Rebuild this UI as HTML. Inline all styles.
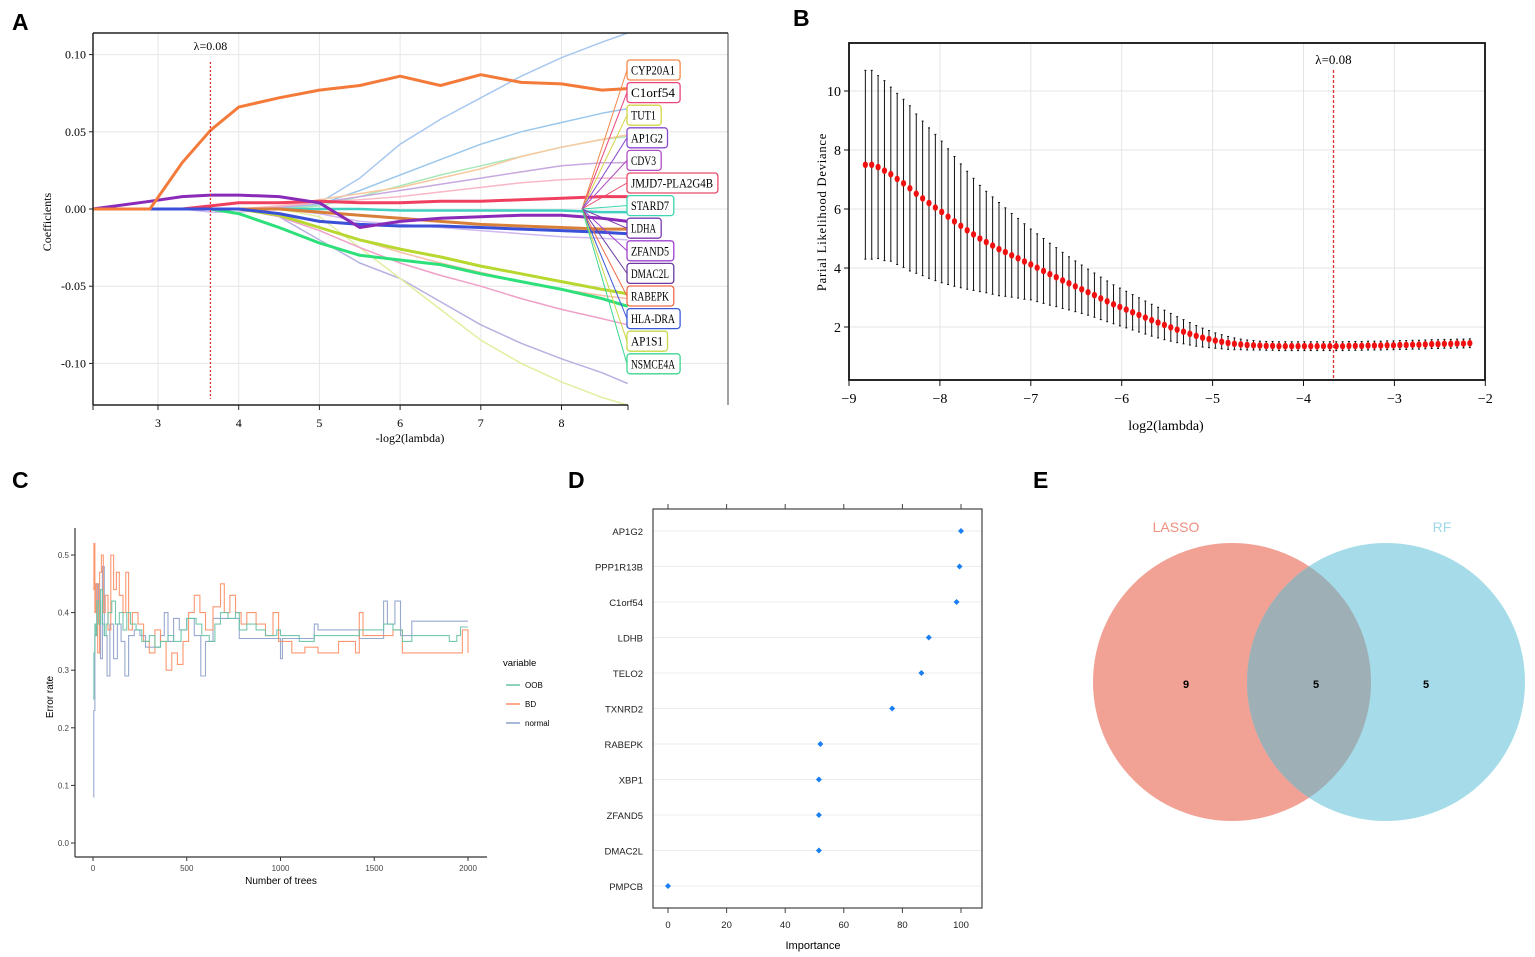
<!DOCTYPE html>
<html><head><meta charset="utf-8"><style>
html,body{margin:0;padding:0;background:#fff;}
svg{display:block;}
.ser{font-family:"Liberation Serif",serif;}
.san{font-family:"Liberation Sans",sans-serif;}
</style></head><body>
<svg id="fig" width="1535" height="957" viewBox="0 0 1535 957" xmlns="http://www.w3.org/2000/svg">
<text x="12" y="30" class="san" font-size="23" font-weight="bold">A</text>
<text x="793" y="26" class="san" font-size="23" font-weight="bold">B</text>
<text x="12" y="488" class="san" font-size="23" font-weight="bold">C</text>
<text x="568" y="488" class="san" font-size="23" font-weight="bold">D</text>
<text x="1033" y="488" class="san" font-size="23" font-weight="bold">E</text>
<g id="pa"></g>
<g id="pb"></g>
<g id="pc"></g>
<g id="pd"></g>
<g id="pe">
<defs><clipPath id="clipL"><circle cx="1232" cy="682" r="139"/></clipPath></defs>
<circle cx="1232" cy="682" r="139" fill="#f2a195"/>
<circle cx="1386" cy="682" r="139" fill="#a6dce9"/>
<circle cx="1386" cy="682" r="139" fill="#9fafb6" clip-path="url(#clipL)"/>
<text x="1176" y="532" text-anchor="middle" class="san" font-size="14" fill="#f08e80">LASSO</text>
<text x="1442" y="532" text-anchor="middle" class="san" font-size="14" fill="#9ed8e6">RF</text>
<text x="1186" y="688" text-anchor="middle" class="san" font-size="11" font-weight="bold">9</text>
<text x="1316" y="688" text-anchor="middle" class="san" font-size="11" font-weight="bold">5</text>
<text x="1426" y="688" text-anchor="middle" class="san" font-size="11" font-weight="bold">5</text>
</g>
</svg>
<script>
const NS="http://www.w3.org/2000/svg";
function mk(parent,tag,attrs,text){const e=document.createElementNS(NS,tag);for(const k in attrs)e.setAttribute(k,attrs[k]);if(text!==undefined)e.textContent=text;parent.appendChild(e);return e;}

/* ===== Panel A data ===== */
const aGrid=[2.19,2.9,3.3,3.65,4.0,4.5,5.0,5.5,6.0,6.5,7.0,7.5,8.0,8.5,8.82];
const aXTicks=[3,4,5,6,7,8];
const aYTicks=[0.10,0.05,0.00,-0.05,-0.10];
const aSeriesColors=["#a8c8f0","#9cc8ec","#a8e8b8","#f8c8a0","#c8a8e0","#f8b8c8","#b8b0e0","#e0f0a0","#f0a0c8","#f8c0a8","#d0b8f0","#40d0c0","#f04060","#d8803a","#b8d830","#2ee07a","#3a50d8","#8a2ab8","#f47a3a"];
const aSeriesWidths=[1.5,1.5,1.5,1.5,1.5,1.5,1.5,1.5,1.5,1.5,1.5,2.5,3,3,3,3,3,3,3];
const aS0=[0,0,0,0,0,0,0.004,0.02,0.042,0.058,0.072,0.086,0.098,0.108,0.114];
const aS1=[0,0,0,0,0,0,0.003,0.012,0.022,0.032,0.042,0.05,0.056,0.062,0.065];
const aS2=[0,0,0,0,0,0,0.002,0.008,0.015,0.022,0.028,0.034,0.04,0.045,0.047];
const aS3=[0,0,0,0,0,0.002,0.006,0.01,0.014,0.02,0.026,0.034,0.04,0.045,0.048];
const aS4=[0,0,0,0,0,0.001,0.004,0.008,0.012,0.016,0.02,0.024,0.028,0.03,0.03];
const aS5=[0,0,0,0,0,0.002,0.004,0.006,0.008,0.011,0.014,0.017,0.019,0.02,0.02];
const aS6=[0,0,0,0,0,-0.005,-0.02,-0.035,-0.045,-0.06,-0.075,-0.087,-0.097,-0.106,-0.113];
const aS7=[0,0,0,0,0,0,-0.005,-0.025,-0.045,-0.065,-0.085,-0.1,-0.112,-0.122,-0.127];
const aS8=[0,0,0,0,0,-0.005,-0.014,-0.025,-0.035,-0.043,-0.05,-0.058,-0.065,-0.071,-0.075];
const aS9=[0,0,0,0,0,-0.004,-0.012,-0.02,-0.028,-0.035,-0.041,-0.047,-0.052,-0.056,-0.058];
const aS10=[0,0,0,-0.002,-0.002,0,-0.003,-0.008,-0.01,-0.012,-0.014,-0.016,-0.018,-0.019,-0.02];
const aS11=[0,0,0,0,0,0,0,0,-0.001,-0.001,-0.001,-0.001,-0.001,-0.002,-0.002];
const aS12=[0,0,0,0.002,0.004,0.004,0.005,0.004,0.004,0.005,0.005,0.006,0.007,0.008,0.008];
const aS13=[0,0,0,0,0,0,-0.002,-0.004,-0.006,-0.008,-0.01,-0.011,-0.012,-0.013,-0.013];
const aS14=[0,0,0,0,0,-0.004,-0.012,-0.02,-0.026,-0.031,-0.037,-0.042,-0.047,-0.052,-0.055];
const aS15=[0,0,0,0,-0.003,-0.012,-0.022,-0.03,-0.033,-0.036,-0.042,-0.047,-0.052,-0.058,-0.063];
const aS16=[0,0,0,0,0,-0.003,-0.008,-0.01,-0.011,-0.011,-0.012,-0.013,-0.014,-0.015,-0.016];
const aS17=[0,0.005,0.008,0.009,0.009,0.008,0.004,-0.012,-0.008,-0.006,-0.005,-0.004,-0.004,-0.006,-0.008];
const aS18=[0,0,0.03,0.051,0.066,0.072,0.077,0.08,0.086,0.08,0.087,0.082,0.081,0.077,0.078];
const aSeries=[aS0,aS1,aS2,aS3,aS4,aS5,aS6,aS7,aS8,aS9,aS10,aS11,aS12,aS13,aS14,aS15,aS16,aS17,aS18];
const aLabels=["CYP20A1","C1orf54","TUT1","AP1G2","CDV3","JMJD7-PLA2G4B","STARD7","LDHA","ZFAND5","DMAC2L","RABEPK","HLA-DRA","AP1S1","NSMCE4A"];
const aLabelColors=["#f4884a","#e8457a","#d4d44a","#8a4ad0","#b050c0","#e84a6a","#3ed6b0","#7a3ab0","#a040d0","#6a3aa0","#f06a4a","#3a5ad8","#c8d84a","#3ed690"];
const aLambda=3.65;

(function(){
const g=document.getElementById('pa');
const L=93,R=728,T=33,B=405;
const xs=v=>158+(v-3)*80.7, ys=v=>209-v*1544;
mk(g,'rect',{x:L,y:T,width:R-L,height:B-T,fill:'#fff'});
aXTicks.forEach(t=>{const l=mk(g,'line',{x1:xs(t),x2:xs(t),y1:T,y2:B,stroke:'#e6e6e6'});

});
aYTicks.forEach(t=>{const l=mk(g,'line',{x1:L,x2:R,y1:ys(t),y2:ys(t),stroke:'#e6e6e6'});

});
aSeries.forEach((s,i)=>{const pts=s.map((v,j)=>xs(aGrid[j]).toFixed(1)+','+ys(v).toFixed(1)).join(' ');
const p=mk(g,'polyline',{points:pts,fill:'none',stroke:aSeriesColors[i],'stroke-width':aSeriesWidths[i],'stroke-linejoin':'round'});

});
const vl=mk(g,'line',{x1:xs(aLambda),x2:xs(aLambda),y1:62,y2:B-6,stroke:'#e03030','stroke-width':1.3,'stroke-dasharray':'2,2'});


const lt=mk(g,'text',{x:xs(aLambda),y:50,'text-anchor':'middle','font-size':12,class:'ser'},'λ=0.08');


aLabels.forEach((n,i)=>{const cy=70+i*22.6;const w=n.length*6.3+9;
const c=mk(g,'line',{x1:582,y1:209,x2:627,y2:cy,stroke:aLabelColors[i],'stroke-width':1});


const r=mk(g,'rect',{x:627,y:cy-10,width:w,height:20,rx:3,fill:'#fff',stroke:aLabelColors[i],'stroke-width':1.3});


const t=mk(g,'text',{x:631,y:cy+4.5,'font-size':12.5,class:'ser',textLength:(w-9).toFixed(0),lengthAdjust:'spacingAndGlyphs'},n);

});
mk(g,'line',{x1:L,x2:R,y1:T,y2:T,stroke:'#222','stroke-width':1.5});
mk(g,'line',{x1:R,x2:R,y1:T,y2:B,stroke:'#444','stroke-width':1});
mk(g,'line',{x1:L,x2:L,y1:T,y2:B,stroke:'#222','stroke-width':1.5});
mk(g,'line',{x1:L,x2:628,y1:B,y2:B,stroke:'#222','stroke-width':1.5});
[L,628].concat(aXTicks.map(xs)).forEach(x=>mk(g,'line',{x1:x,x2:x,y1:B,y2:B+5,stroke:'#222'}));
aXTicks.forEach(t=>{const e=mk(g,'text',{x:xs(t),y:B+22,'text-anchor':'middle','font-size':12,class:'ser'},t);

});
aYTicks.forEach(t=>{mk(g,'line',{x1:L-4,x2:L,y1:ys(t),y2:ys(t),stroke:'#222'});
const e=mk(g,'text',{x:L-7,y:ys(t)+4,'text-anchor':'end','font-size':12,class:'ser'},t.toFixed(2));

});
const xt=mk(g,'text',{x:410,y:442,'text-anchor':'middle','font-size':12,class:'ser'},'-log2(lambda)');


const yt=mk(g,'text',{x:0,y:0,transform:'translate(51,222) rotate(-90)','text-anchor':'middle','font-size':12,class:'ser'},'Coefficients');


})();

/* ===== Panel B data ===== */
const bStart=-8.82, bStep=0.07;
const bXTicks=[-9,-8,-7,-6,-5,-4,-3,-2];
const bYTicks=[2,4,6,8,10];
const bMean=[7.50,7.50,7.42,7.30,7.18,7.02,6.87,6.70,6.52,6.36,6.20,6.05,5.90,5.74,5.58,5.43,5.28,5.14,5.00,4.88,4.76,4.64,4.54,4.43,4.33,4.22,4.12,4.01,3.90,3.79,3.69,3.58,3.48,3.38,3.28,3.18,3.08,2.97,2.87,2.77,2.68,2.59,2.50,2.41,2.32,2.23,2.15,2.07,1.99,1.91,1.84,1.77,1.70,1.64,1.59,1.54,1.50,1.46,1.43,1.41,1.39,1.38,1.37,1.36,1.36,1.35,1.35,1.35,1.35,1.35,1.35,1.35,1.35,1.35,1.35,1.35,1.36,1.36,1.36,1.37,1.37,1.37,1.38,1.38,1.39,1.39,1.40,1.40,1.41,1.42,1.42,1.43,1.43,1.44,1.44,1.45];
const bSd=[3.2,3.2,3.1,3.05,2.95,2.9,2.85,2.8,2.7,2.62,2.55,2.48,2.4,2.3,2.2,2.1,2.0,1.9,1.8,1.72,1.65,1.58,1.5,1.42,1.35,1.28,1.2,1.15,1.1,1.05,1.0,0.95,0.9,0.86,0.82,0.78,0.75,0.72,0.69,0.66,0.64,0.62,0.6,0.58,0.56,0.54,0.52,0.5,0.47,0.44,0.41,0.38,0.35,0.32,0.29,0.26,0.24,0.22,0.2,0.18,0.17,0.16,0.15,0.15,0.15,0.15,0.15,0.15,0.15,0.15,0.15,0.15,0.15,0.15,0.15,0.15,0.15,0.15,0.15,0.15,0.15,0.15,0.15,0.15,0.15,0.15,0.15,0.15,0.15,0.15,0.15,0.15,0.15,0.15,0.15,0.15];
const bLambda=-3.67;

(function(){
const g=document.getElementById('pb');
const L=849,R=1485,T=43,B=380;
const xs=v=>849+(v+9)*90.9, ys=v=>386-v*29.5;
bXTicks.forEach(t=>mk(g,'line',{x1:xs(t),x2:xs(t),y1:T,y2:B,stroke:'#e4e4e4'}));
bYTicks.forEach(t=>mk(g,'line',{x1:L,x2:R,y1:ys(t),y2:ys(t),stroke:'#e4e4e4'}));
bMean.forEach((m,i)=>{const x=xs(bStart+i*bStep);
const e=mk(g,'line',{x1:x,x2:x,y1:ys(m+bSd[i]),y2:ys(m-bSd[i]),stroke:'#111','stroke-width':1});


mk(g,'line',{x1:x-1,x2:x+1,y1:ys(m+bSd[i]),y2:ys(m+bSd[i]),stroke:'#111'});
mk(g,'line',{x1:x-1,x2:x+1,y1:ys(m-bSd[i]),y2:ys(m-bSd[i]),stroke:'#111'});});
bMean.forEach((m,i)=>{const x=xs(bStart+i*bStep);
const d=mk(g,'ellipse',{cx:x,cy:ys(m),rx:2.6,ry:3.3,fill:'#f01010'});

});
const vl=mk(g,'line',{x1:xs(bLambda),x2:xs(bLambda),y1:70,y2:B,stroke:'#e03030','stroke-width':1.3,'stroke-dasharray':'3,2'});


const lt=mk(g,'text',{x:xs(bLambda),y:64,'text-anchor':'middle','font-size':13,class:'ser'},'λ=0.08');


mk(g,'rect',{x:L,y:T,width:R-L,height:B-T,fill:'none',stroke:'#111','stroke-width':1.8});
bXTicks.forEach(t=>{mk(g,'line',{x1:xs(t),x2:xs(t),y1:B,y2:B+6,stroke:'#111'});
const e=mk(g,'text',{x:xs(t),y:B+23,'text-anchor':'middle','font-size':14,class:'ser'},t==0?'0':'\u2212'+Math.abs(t));

});
bYTicks.forEach(t=>{mk(g,'line',{x1:L-5,x2:L,y1:ys(t),y2:ys(t),stroke:'#111'});
const e=mk(g,'text',{x:L-8,y:ys(t)+5,'text-anchor':'end','font-size':14,class:'ser'},t);

});
const xt=mk(g,'text',{x:1166,y:430,'text-anchor':'middle','font-size':14,class:'ser'},'log2(lambda)');


const yt=mk(g,'text',{x:0,y:0,transform:'translate(826,212) rotate(-90)','text-anchor':'middle','font-size':12.5,'letter-spacing':'0.8',class:'ser'},'Parial Likelihood Deviance');


})();

/* ===== Panel C data ===== */
const cXTicks=[0,500,1000,1500,2000];
const cYTicks=[0.0,0.1,0.2,0.3,0.4,0.5];
const cOOBTrees=[1,5,10,15,20,30,40,50,60,70,80,100,120,140,160,180,200,230,260,300,330,360,400,430,470,500,550,580,620,650,680,720,760,780,820,870,920,980,1000,1050,1100,1180,1220,1300,1420,1550,1600,1650,1700,1900,1940,1960,2000];
const cOOBVals=[0.25,0.33,0.38,0.36,0.42,0.38,0.44,0.38,0.36,0.38,0.40,0.42,0.38,0.40,0.37,0.40,0.38,0.37,0.35,0.36,0.34,0.35,0.36,0.35,0.37,0.39,0.38,0.36,0.35,0.38,0.40,0.39,0.40,0.37,0.38,0.37,0.36,0.37,0.36,0.36,0.35,0.36,0.36,0.36,0.37,0.38,0.37,0.35,0.36,0.35,0.36,0.375,0.375];
const cBDTrees=[1,5,10,15,25,35,45,55,65,80,95,110,125,140,160,175,190,210,240,270,300,330,360,390,420,450,480,510,540,570,600,640,680,700,730,760,790,820,870,920,960,990,1060,1130,1200,1310,1400,1420,1440,1600,1650,1970,2000];
const cBDVals=[0.44,0.52,0.40,0.45,0.33,0.47,0.50,0.40,0.43,0.37,0.50,0.44,0.47,0.43,0.40,0.47,0.37,0.40,0.38,0.35,0.33,0.37,0.35,0.30,0.33,0.31,0.35,0.40,0.43,0.40,0.37,0.41,0.45,0.40,0.43,0.40,0.38,0.40,0.38,0.36,0.40,0.35,0.33,0.34,0.33,0.35,0.33,0.40,0.36,0.37,0.33,0.37,0.33];
const cNormTrees=[1,4,10,20,30,40,50,60,75,90,110,130,150,170,190,220,250,280,320,360,380,400,430,460,500,540,575,600,640,700,750,780,1000,1010,1180,1200,1420,1550,1570,1610,1640,1700,2000];
const cNormVals=[0.08,0.23,0.36,0.45,0.42,0.32,0.48,0.36,0.29,0.38,0.32,0.38,0.35,0.29,0.36,0.37,0.36,0.34,0.34,0.36,0.40,0.35,0.39,0.37,0.39,0.36,0.29,0.35,0.39,0.39,0.39,0.355,0.32,0.355,0.38,0.37,0.355,0.42,0.38,0.42,0.36,0.385,0.385];
const cNames=["OOB","BD","normal"];
const cColors=["#66c2a5","#fc8d62","#8da0cb"];

(function(){
const g=document.getElementById('pc');
const xs=v=>93+v*0.1875, ys=v=>843-v*576;
const sets=[[cOOBTrees,cOOBVals],[cBDTrees,cBDVals],[cNormTrees,cNormVals]];
[2,1,0].forEach(k=>{const [tr,va]=sets[k];let d='';
tr.forEach((t,i)=>{if(i===0)d+='M'+xs(t).toFixed(1)+','+ys(va[i]).toFixed(1);else d+=' H'+xs(t).toFixed(1)+' V'+ys(va[i]).toFixed(1);});
const p=mk(g,'path',{d:d,fill:'none',stroke:cColors[k],'stroke-width':1.1,opacity:0.9});

});
mk(g,'line',{x1:75,x2:75,y1:528,y2:857,stroke:'#333','stroke-width':1.2});
mk(g,'line',{x1:75,x2:487,y1:857,y2:857,stroke:'#333','stroke-width':1.2});
cXTicks.forEach(t=>{mk(g,'line',{x1:xs(t),x2:xs(t),y1:857,y2:861,stroke:'#333'});
const e=mk(g,'text',{x:xs(t),y:871,'text-anchor':'middle','font-size':8,fill:'#444',class:'san'},t);

});
cYTicks.forEach(t=>{mk(g,'line',{x1:71,x2:75,y1:ys(t),y2:ys(t),stroke:'#333'});
const e=mk(g,'text',{x:69,y:ys(t)+3,'text-anchor':'end','font-size':8,fill:'#444',class:'san'},t.toFixed(1));

});
const xt=mk(g,'text',{x:281,y:884,'text-anchor':'middle','font-size':10,class:'san'},'Number of trees');


const yt=mk(g,'text',{x:0,y:0,transform:'translate(53,697) rotate(-90)','text-anchor':'middle','font-size':10,class:'san'},'Error rate');


const lg=mk(g,'text',{x:503,y:666,'font-size':9.5,class:'san'},'variable');


cNames.forEach((n,i)=>{const y=685+i*19;
const s=mk(g,'line',{x1:506,x2:520,y1:y,y2:y,stroke:cColors[i],'stroke-width':1.5});


const t=mk(g,'text',{x:525,y:y+3,'font-size':8,class:'san'},n);

});
})();

/* ===== Panel D data ===== */
const dGenes=["AP1G2","PPP1R13B","C1orf54","LDHB","TELO2","TXNRD2","RABEPK","XBP1","ZFAND5","DMAC2L","PMPCB"];
const dImportance=[100,99.5,98.5,89,86.5,76.5,52,51.5,51.5,51.5,0];
const dXTicks=[0,20,40,60,80,100];

(function(){
const g=document.getElementById('pd');
const L=653,R=982,T=509,B=908;
const xs=v=>668+v*2.93, ys=i=>531+i*35.5;
dGenes.forEach((n,i)=>{const l=mk(g,'line',{x1:L,x2:R,y1:ys(i),y2:ys(i),stroke:'#ececec'});


const t=mk(g,'text',{x:643,y:ys(i)+4,'text-anchor':'end','font-size':9.5,fill:'#222',class:'san'},n);


const d=mk(g,'path',{d:`M${xs(dImportance[i])},${ys(i)-3} l3,3 l-3,3 l-3,-3 z`,fill:'#1a7ff0'});

});
mk(g,'rect',{x:L,y:T,width:R-L,height:B-T,fill:'none',stroke:'#444','stroke-width':1.2});
dXTicks.forEach(t=>{mk(g,'line',{x1:xs(t),x2:xs(t),y1:B,y2:B+5,stroke:'#444'});
mk(g,'line',{x1:xs(t),x2:xs(t),y1:T-5,y2:T,stroke:'#444'});
const e=mk(g,'text',{x:xs(t),y:928,'text-anchor':'middle','font-size':9.5,fill:'#222',class:'san'},t);

});
const xt=mk(g,'text',{x:813,y:949,'text-anchor':'middle','font-size':11,class:'san'},'Importance');


})();
</script>
</body></html>
